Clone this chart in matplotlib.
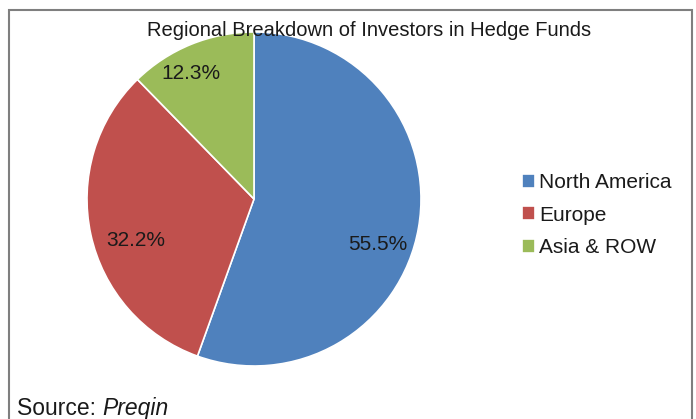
import matplotlib
matplotlib.use("Agg")
import matplotlib.pyplot as plt
from matplotlib.patches import Rectangle

plt.rcParams['font.family'] = ['Liberation Sans', 'DejaVu Sans']

regions = ['North America', 'Europe', 'Asia & ROW']
shares = [55.5, 32.2, 12.3]
colors = ['#4F81BD', '#C0504D', '#9BBB59']

# where Excel put the percentage labels (pie radius = 1)
label_pos = [(0.74, -0.27), (-0.71, -0.25), (-0.38, 0.75)]

fig = plt.figure(figsize=(6.96, 4.19), dpi=100)
W, H = 696, 419
txt = '#1a1a1a'

# chart frame (open at the bottom)
fig.patches.append(Rectangle((9 / W, -0.05), 683 / W, 1.05 - 10 / H,
                             transform=fig.transFigure, fill=False,
                             edgecolor='#7f7f7f', lw=1.5))

cx, cy, r = 254, 199, 167
ax = fig.add_axes([(cx - r) / W, (H - cy - r) / H, 2 * r / W, 2 * r / H])
wedges, texts, autotexts = ax.pie(shares, colors=colors, startangle=90,
                                  counterclock=False, autopct='%.1f%%',
                                  wedgeprops=dict(edgecolor='white', linewidth=1.2),
                                  textprops=dict(fontsize=15, color=txt))
for t, p in zip(autotexts, label_pos):
    t.set_position(p)
ax.set_xlim(-1, 1)
ax.set_ylim(-1, 1)

fig.text(369 / W, 1 - 30 / H, 'Regional Breakdown of Investors in Hedge Funds',
         ha='center', va='center', fontsize=14.5, color=txt)

fig.legend(wedges, regions, loc='center left', bbox_to_anchor=(503 / W, 1 - 215 / H),
           frameon=False, fontsize=15, handlelength=0.65, handleheight=0.65,
           handletextpad=0.2, labelspacing=0.65, labelcolor=txt)

src = fig.text(17 / W, 1 - 408 / H, 'Source: ', ha='left', va='center',
               fontsize=16.5, color=txt)
ax.annotate('Preqin', xy=(1, 0.5), xycoords=src, ha='left', va='center',
            fontsize=16.5, style='italic', color=txt)

fig.savefig('out.png', dpi=100)
